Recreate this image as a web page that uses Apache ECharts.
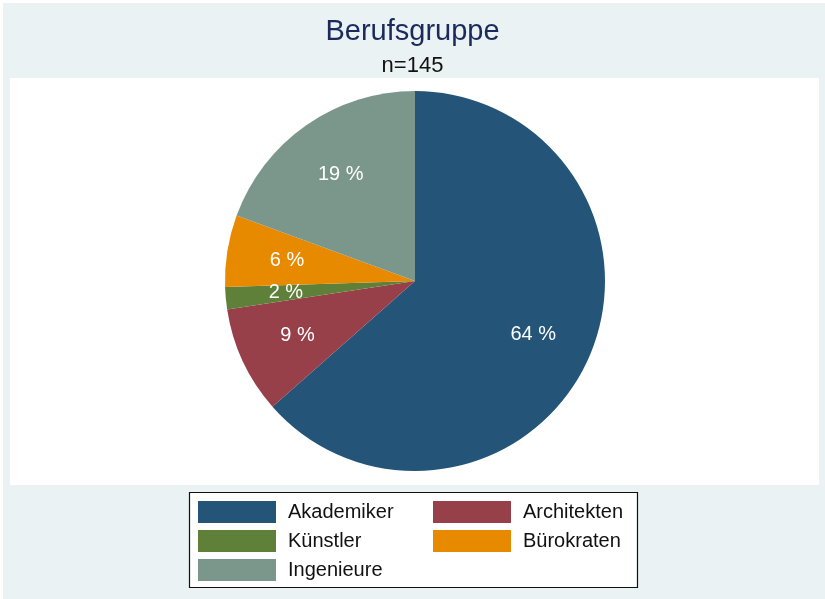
<!DOCTYPE html>
<html>
<head>
<meta charset="utf-8">
<script src="https://cdn.jsdelivr.net/npm/echarts@6/dist/echarts.min.js"></script>
<style>
  html, body { margin: 0; padding: 0; background: #ffffff; }
  #main { width: 825px; height: 599px; }
</style>
</head>
<body>
<div id="main"></div>
<script>
// shares (percent)
const categories = ['Akademiker', 'Architekten', 'Künstler', 'Bürokraten', 'Ingenieure'];
const shares = [63.5, 9.1, 1.9, 6.1, 19.4];
const colors = ['#245579', '#97404a', '#5f8039', '#e88a00', '#7b978c'];
const leftColumn = ['Akademiker', 'Künstler', 'Ingenieure'];
const rightColumn = ['Architekten', 'Bürokraten'];
const sampleSize = 145;

const chartDom = document.getElementById('main');
const myChart = echarts.init(chartDom, null, { renderer: 'canvas' });

const FONT = 'Liberation Sans, Arial, sans-serif';
const R = 190;
const center = [415, 281];

const legendBase = {
  orient: 'vertical',
  top: 496,
  itemWidth: 78,
  itemHeight: 22,
  itemGap: 7,
  icon: 'rect',
  selectedMode: false,
  textStyle: {
    fontFamily: FONT,
    fontSize: 20,
    color: '#111111',
    padding: [0, 0, 0, 7]
  }
};

const option = {
  backgroundColor: '#ffffff',
  animation: false,
  title: [
    {
      text: 'Berufsgruppe',
      left: 'center',
      top: 12,
      textStyle: { fontFamily: FONT, fontSize: 29, fontWeight: 'normal', color: '#1b2a5c' }
    },
    {
      text: 'n=' + sampleSize,
      left: 'center',
      top: 50,
      textStyle: { fontFamily: FONT, fontSize: 22, fontWeight: 'normal', color: '#111111' }
    }
  ],
  graphic: [
    { type: 'rect', z: -10, shape: { x: 3, y: 3, width: 822, height: 596 }, style: { fill: '#eaf2f3' } },
    { type: 'rect', z: -9, shape: { x: 10, y: 78, width: 809, height: 407 }, style: { fill: '#ffffff' } },
    { type: 'rect', z: -8, shape: { x: 189.5, y: 492.5, width: 448, height: 95 }, style: { fill: '#ffffff', stroke: '#111111', lineWidth: 1.2 } }
  ],
  legend: [
    Object.assign({}, legendBase, { left: 193, data: leftColumn }),
    Object.assign({}, legendBase, { left: 428, data: rightColumn })
  ],
  series: [
    {
      name: 'Berufsgruppe',
      type: 'pie',
      center: center,
      radius: [0, R],
      startAngle: 90,
      clockwise: true,
      silent: true,
      label: { show: false },
      labelLine: { show: false },
      data: categories.map((name, i) => ({ name: name, value: shares[i], itemStyle: { color: colors[i] } }))
    },
    {
      // transparent copy that only carries the labels at 2/3 radius
      name: 'labels',
      type: 'pie',
      center: center,
      radius: [0, R * 4 / 3],
      startAngle: 90,
      clockwise: true,
      silent: true,
      legendHoverLink: false,
      itemStyle: { color: 'transparent' },
      label: {
        show: true,
        position: 'inside',
        formatter: p => Math.round(p.percent) + ' %',
        fontFamily: FONT,
        fontSize: 20,
        color: '#ffffff'
      },
      labelLine: { show: false },
      data: categories.map((name, i) => ({ name: name + ' ', value: shares[i], itemStyle: { color: 'transparent' } }))
    }
  ]
};

myChart.setOption(option);
</script>
</body>
</html>
